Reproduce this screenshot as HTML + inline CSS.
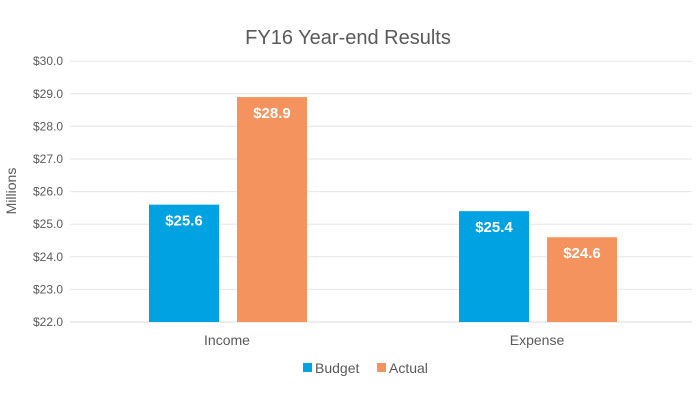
<!DOCTYPE html>
<html><head><meta charset="utf-8"><style>
body{margin:0;background:#fff;}
svg text{font-family:"Liberation Sans",sans-serif;}
</style></head><body>
<svg id="chart" width="696" height="400" xmlns="http://www.w3.org/2000/svg">
<rect width="696" height="400" fill="#fff"/>
<text x="348" y="44" text-anchor="middle" font-size="20" fill="#595959">FY16 Year-end Results</text>
<text transform="translate(16,191) rotate(-90)" text-anchor="middle" font-size="14" fill="#595959">Millions</text>
<g id="grid"></g><g id="bars"></g>
<g>
<rect x="303" y="363" width="9" height="9" fill="#00a2e1"/>
<text x="315" y="373" font-size="14" fill="#595959">Budget</text>
<rect x="377" y="363" width="9" height="9" fill="#f5935e"/>
<text x="389" y="373" font-size="14" fill="#595959">Actual</text>
</g>
</svg>
<script>
const categories=["Income","Expense"];
const budget=[25.6,25.4];
const actual=[28.9,24.6];
const ticks=[22,23,24,25,26,27,28,29,30];
const NS="http://www.w3.org/2000/svg";
const y=v=>322-(v-22)*32.6;
const catX=i=>227+i*310;
const g=document.getElementById('grid'),b=document.getElementById('bars');
function mk(tag,attrs,parent){const e=document.createElementNS(NS,tag);for(const k in attrs)e.setAttribute(k,attrs[k]);parent.appendChild(e);return e;}
ticks.forEach(t=>{
 const l=mk('line',{x1:70,x2:692,y1:y(t),y2:y(t),stroke:t===22?'#d9d9d9':'#e6e6e6','stroke-width':1},g);
 
 
 const tx=mk('text',{x:63,y:y(t)+4,'text-anchor':'end','font-size':12,fill:'#595959'},g);
 tx.textContent='$'+t.toFixed(1);
 
 
});
categories.forEach((c,i)=>{
 const cx=catX(i);
 [[budget[i],cx-78,'#00a2e1','budget'],[actual[i],cx+10,'#f5935e','actual']].forEach(([v,x,col,s])=>{
  const r=mk('rect',{x:x,y:y(v),width:70,height:322-y(v),fill:col},b);
  
  
  const t=mk('text',{x:x+35,y:y(v)+21,'text-anchor':'middle','font-size':15,'font-weight':'bold',fill:'#fff'},b);
  t.textContent='$'+v.toFixed(1);
  
  
 });
 const ct=mk('text',{x:cx,y:345,'text-anchor':'middle','font-size':14,fill:'#595959'},b);
 ct.textContent=c;
 
 
});
</script>
</body></html>
